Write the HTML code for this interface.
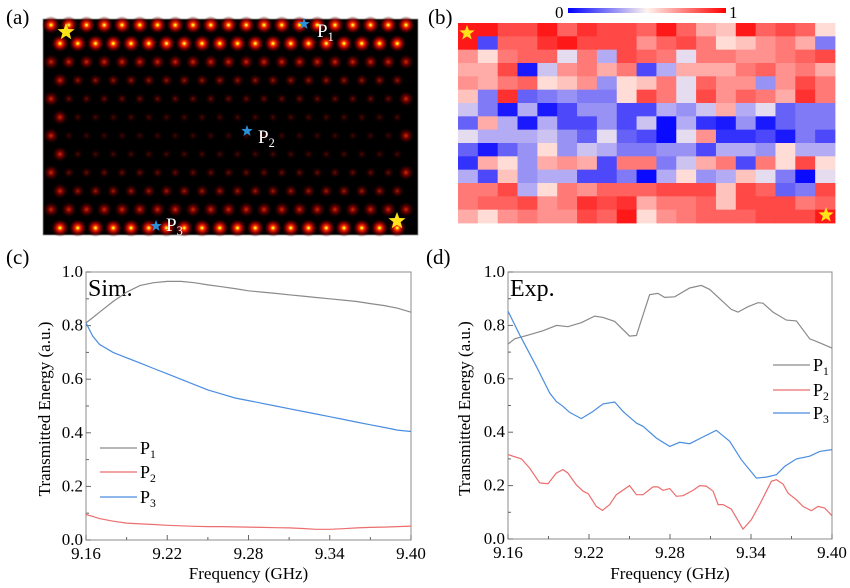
<!DOCTYPE html>
<html><head><meta charset="utf-8">
<style>
body{margin:0;background:#fff;width:850px;height:583px;overflow:hidden;font-family:"Liberation Serif","Times New Roman",Times,serif;}
text{font-family:"Liberation Serif","Times New Roman",Times,serif;}
</style></head>
<body>
<svg id="fig" width="850" height="583" xmlns="http://www.w3.org/2000/svg" font-family="Liberation Serif, Times New Roman, Times, serif" style="font-family:'Liberation Serif','Times New Roman',Times,serif">
<defs>
<radialGradient id="glow">
<stop offset="0" stop-color="#ffffa0"/>
<stop offset="0.12" stop-color="#ffd000"/>
<stop offset="0.26" stop-color="#ff3000"/>
<stop offset="0.55" stop-color="#b00000" stop-opacity="0.8"/>
<stop offset="1" stop-color="#300000" stop-opacity="0"/>
</radialGradient>
<radialGradient id="dimglow">
<stop offset="0" stop-color="#d03000"/>
<stop offset="0.35" stop-color="#900000" stop-opacity="0.8"/>
<stop offset="1" stop-color="#200000" stop-opacity="0"/>
</radialGradient>
<linearGradient id="cbar" x1="0" x2="1" y1="0" y2="0">
<stop offset="0" stop-color="#0000ff"/>
<stop offset="0.5" stop-color="#fff4ee"/>
<stop offset="1" stop-color="#ff0000"/>
</linearGradient>
</defs>
<g id="panelA">
<text x="6" y="24" font-size="21">(a)</text>
<rect x="43" y="19" width="375" height="216" fill="#000" stroke="#999" stroke-width="0.8"/>
<g id="dots"></g>
</g>
<g id="panelB">
<text x="428" y="24" font-size="21">(b)</text>
<text x="555" y="18" font-size="17">0</text>
<rect x="568" y="8" width="158" height="5" fill="url(#cbar)"/>
<text x="729" y="18" font-size="17">1</text>
<g id="cells"></g>
</g>
<g id="panelC"></g>
<g id="panelD"></g>
<g id="overlay"></g>
</svg>
<script>
const NS="http://www.w3.org/2000/svg";
function mk(tag,attrs,parent){const e=document.createElementNS(NS,tag);for(const k in attrs)e.setAttribute(k,attrs[k]);if(tag==='text')e.setAttribute('font-family','Liberation Serif, Times New Roman, Times, serif');parent.appendChild(e);return e;}

// ---------- Panel (a) field map ----------
const rowIntensity=[0.8,1.0,0.4,0.25,0.14,0.07,0.05,0.07,0.14,0.28,0.45,1.0];
const dotsG=document.getElementById('dots');
for(let i=0;i<rowIntensity.length;i++){
  const y=25+i*18.45;
  const x0=(i%2===0)?51:60;
  for(let k=0;k<21;k++){
    const x=x0+k*17.75;
    if(x>414) break;
    let I=rowIntensity[i];
    const edge=Math.min(x-43,418-x);
    if(edge<20) I=Math.max(I,0.45);
    const bright=I>0.6;
    const c=mk('circle',{cx:x,cy:y,r:bright?9:5+7*I,fill:bright?'url(#glow)':'url(#dimglow)',opacity:bright?1:Math.min(1,0.2+2*I)},dotsG);
    
    
  }
}
const ov=document.getElementById('overlay');
function star(cx,cy,r,fill,name){
  let p='';for(let j=0;j<10;j++){const a=-Math.PI/2+j*Math.PI/5;const rr=j%2?r*0.42:r;p+=(cx+rr*Math.cos(a))+','+(cy+rr*Math.sin(a))+' ';}
  const s=mk('polygon',{points:p,fill:fill},ov);
  
  
}
star(66,32,9,'#ffe21a','source-star-a');
star(397,221,9,'#ffe21a','drain-star-a');
star(304,24,6,'#2a90d8','probe-p1-star');
star(247,131,6,'#2a90d8','probe-p2-star');
star(156,226,6,'#2a90d8','probe-p3-star');
function plabel(x,y,n,fill,size,name,parent){
  const t=mk('text',{x:x,y:y,'font-size':size,fill:fill},parent||ov);
  
  
  t.innerHTML='P<tspan font-size="'+(size*0.65)+'" dy="4">'+n+'</tspan>';
}
plabel(317,37,1,'#fff',19,'probe-p1-label');
plabel(258,143,2,'#fff',19,'probe-p2-label');
plabel(166,231,3,'#fff',19,'probe-p3-label');

// ---------- Panel (b) heatmap ----------
const heatRows=[
[0.95,0.95,0.85,0.85,0.95,0.8,0.9,0.85,0.85,0.8,0.95,0.8,0.65,0.6,0.95,0.8,0.85,0.8,0.55],
[0.95,0.15,0.8,0.8,0.9,0.95,0.85,0.85,0.85,0.7,0.8,0.85,0.75,0.55,0.6,0.7,0.75,0.65,0.25],
[0.7,0.55,0.75,0.8,0.8,0.45,0.75,0.35,0.85,0.8,0.75,0.45,0.75,0.75,0.7,0.7,0.75,0.8,0.85],
[0.65,0.65,0.85,0.05,0.4,0.7,0.75,0.65,0.75,0.15,0.35,0.65,0.65,0.65,0.75,0.8,0.7,0.75,0.65],
[0.7,0.65,0.75,0.8,0.55,0.6,0.7,0.3,0.55,0.6,0.75,0.45,0.8,0.7,0.7,0.3,0.7,0.85,0.75],
[0.6,0.25,0.9,0.2,0.25,0.3,0.25,0.25,0.55,0.85,0.75,0.45,0.85,0.7,0.8,0.75,0.65,0.9,0.75],
[0.4,0.25,0.05,0.35,0.05,0.15,0.3,0.3,0.15,0.15,0.35,0.3,0.4,0.65,0.35,0.45,0.2,0.25,0.25],
[0.2,0.65,0.35,0.05,0.35,0.15,0.15,0.3,0.15,0.4,0.02,0.35,0.1,0.05,0.3,0.05,0.2,0.25,0.25],
[0.45,0.35,0.35,0.35,0.4,0.3,0.2,0.45,0.2,0.15,0.02,0.45,0.7,0.1,0.1,0.15,0.05,0.25,0.15],
[0.2,0.05,0.2,0.3,0.55,0.3,0.4,0.35,0.25,0.25,0.3,0.3,0.15,0.35,0.35,0.3,0.55,0.35,0.35],
[0.1,0.65,0.55,0.3,0.65,0.7,0.65,0.15,0.75,0.75,0.25,0.4,0.65,0.75,0.15,0.75,0.55,0.85,0.55],
[0.35,0.15,0.6,0.3,0.35,0.35,0.15,0.15,0.25,0.02,0.35,0.55,0.3,0.35,0.6,0.45,0.25,0.02,0.45],
[0.75,0.75,0.85,0.35,0.55,0.75,0.7,0.8,0.8,0.8,0.85,0.85,0.85,0.6,0.85,0.8,0.2,0.25,0.85],
[0.75,0.8,0.8,0.85,0.7,0.75,0.9,0.85,0.9,0.65,0.75,0.75,0.8,0.6,0.85,0.85,0.85,0.75,0.8],
[0.65,0.55,0.7,0.75,0.7,0.7,0.85,0.8,0.95,0.55,0.7,0.75,0.8,0.8,0.8,0.85,0.85,0.85,0.95]];
function cmap(v){
  if(v<0.5){const t=v/0.5;return `rgb(${Math.round(255*t)},${Math.round(244*t)},${Math.round(255-17*t)})`;}
  const t=(v-0.5)/0.5;return `rgb(255,${Math.round(244*(1-t))},${Math.round(238*(1-t))})`;
}
const cellsG=document.getElementById('cells');
const hx0=458,hx1=835,hy0=23,hy1=223;
const nR=heatRows.length,nC=heatRows[0].length;
const cw=(hx1-hx0)/nC,ch=(hy1-hy0)/nR;
heatRows.forEach((row,r)=>row.forEach((v,c)=>{
  const e=mk('rect',{x:hx0+c*cw,y:hy0+r*ch,width:cw+0.4,height:ch+0.4,fill:cmap(v)},cellsG);
  
  
}));
star(467,33,8,'#ffe21a','source-star-b');
star(826,215,8,'#ffe21a','drain-star-b');

// ---------- Line charts ----------
const xTicks=[9.16,9.22,9.28,9.34,9.40];
const xTickLabels=["9.16","9.22","9.28","9.34","9.40"];
const yTicks=[0,0.2,0.4,0.6,0.8,1.0];
const yTickLabels=["0.0","0.2","0.4","0.6","0.8","1.0"];
const seriesNames=["P1","P2","P3"];
const seriesColors=["#8a8a8a","#ec6e6e","#4a8de0"];

const simFreq=[9.16,9.165,9.17,9.18,9.19,9.20,9.21,9.22,9.23,9.24,9.25,9.26,9.27,9.28,9.29,9.30,9.31,9.32,9.33,9.34,9.35,9.36,9.37,9.38,9.39,9.40];
const simP1=[0.81,0.83,0.85,0.89,0.925,0.95,0.96,0.965,0.965,0.96,0.952,0.945,0.938,0.93,0.925,0.92,0.915,0.91,0.905,0.9,0.895,0.89,0.882,0.875,0.865,0.85];
const simP2=[0.095,0.088,0.08,0.07,0.063,0.06,0.058,0.055,0.053,0.051,0.05,0.05,0.049,0.048,0.047,0.046,0.045,0.043,0.04,0.04,0.042,0.045,0.047,0.048,0.05,0.052];
const simP3=[0.81,0.76,0.73,0.70,0.68,0.66,0.64,0.62,0.60,0.58,0.56,0.545,0.53,0.52,0.51,0.50,0.49,0.48,0.47,0.46,0.45,0.44,0.43,0.42,0.41,0.405];

const expP1Freq=[9.16,9.165,9.176,9.186,9.196,9.2044,9.2143,9.2242,9.2304,9.239,9.2501,9.2551,9.2649,9.2711,9.276,9.2835,9.2946,9.3032,9.3094,9.3168,9.3254,9.3304,9.3378,9.3452,9.3489,9.3563,9.3662,9.3736,9.3835,9.3909,9.40];
const expP1=[0.73,0.75,0.765,0.78,0.80,0.795,0.81,0.835,0.83,0.815,0.76,0.762,0.915,0.92,0.905,0.907,0.94,0.95,0.935,0.90,0.86,0.85,0.87,0.885,0.883,0.85,0.82,0.817,0.75,0.735,0.715];
const expP2Freq=[9.16,9.1699,9.176,9.1835,9.1896,9.1958,9.2007,9.2044,9.2106,9.2156,9.2193,9.2254,9.2299,9.2353,9.2402,9.2501,9.2551,9.26,9.2674,9.2711,9.2748,9.2798,9.2847,9.2896,9.297,9.302,9.3069,9.3119,9.3156,9.3193,9.3254,9.3341,9.3402,9.3464,9.3514,9.3551,9.3588,9.3637,9.3674,9.3736,9.3785,9.3847,9.3896,9.3946,9.40];
const expP2=[0.316,0.30,0.266,0.21,0.207,0.247,0.26,0.247,0.203,0.179,0.17,0.122,0.107,0.129,0.166,0.2,0.166,0.166,0.195,0.195,0.182,0.189,0.16,0.162,0.182,0.2,0.198,0.179,0.129,0.129,0.112,0.037,0.072,0.129,0.179,0.216,0.222,0.206,0.172,0.147,0.122,0.106,0.122,0.116,0.087];
const expP3Freq=[9.16,9.1686,9.181,9.1909,9.1958,9.2007,9.2057,9.2143,9.223,9.2304,9.239,9.2452,9.2551,9.26,9.2699,9.2798,9.2872,9.2946,9.3044,9.3143,9.3242,9.3328,9.344,9.3514,9.3588,9.365,9.3736,9.3835,9.3909,9.40];
const expP3=[0.853,0.765,0.647,0.547,0.515,0.497,0.474,0.451,0.478,0.506,0.513,0.478,0.434,0.422,0.378,0.347,0.362,0.357,0.382,0.407,0.366,0.297,0.228,0.232,0.241,0.272,0.30,0.31,0.328,0.335];

function drawChart(gid,cfg){
  const g=document.getElementById(gid);
  
  
  const {x0,x1,y0,y1}=cfg;
  const sx=f=>x0+(f-9.16)/(9.40-9.16)*(x1-x0);
  const sy=v=>y0-(v-0)/(1-0)*(y0-y1);
  const pl=mk('text',{x:cfg.px,y:264,'font-size':21},g);
  pl.textContent=cfg.label;
  
  
  const fr=mk('rect',{x:x0,y:y1,width:x1-x0,height:y0-y1,fill:'none',stroke:'#8c8c8c','stroke-width':1},g);
  
  
  xTicks.forEach((t,i)=>{
    const x=sx(t);
    const tk=mk('line',{x1:x,x2:x,y1:y0,y2:y0-5,stroke:'#666'},g);
    
    
    if(i<xTicks.length-1){const m=sx(t+0.03);const mt=mk('line',{x1:m,x2:m,y1:y0,y2:y0-3,stroke:'#666'},g);
      
      }
    const lb=mk('text',{x:x,y:y0+19,'font-size':17,'text-anchor':'middle'},g);
    lb.textContent=xTickLabels[i];
    
    
  });
  yTicks.forEach((t,i)=>{
    const y=sy(t);
    const tk=mk('line',{x1:x0,x2:x0+5,y1:y,y2:y,stroke:'#666'},g);
    
    
    if(i<yTicks.length-1){const m=sy(t+0.1);const mt=mk('line',{x1:x0,x2:x0+3,y1:m,y2:m,stroke:'#666'},g);
      
      }
    const lb=mk('text',{x:x0-3,y:y+5,'font-size':17,'text-anchor':'end'},g);
    lb.textContent=yTickLabels[i];
    
    
  });
  const xt=mk('text',{x:(x0+x1)/2,y:579,'font-size':17,'text-anchor':'middle'},g);
  xt.textContent='Frequency (GHz)';
  
  
  const yc=(y0+y1)/2+3;
  const yt=mk('text',{x:cfg.ytx,y:yc,'font-size':17,'text-anchor':'middle',transform:`rotate(-90 ${cfg.ytx} ${yc})`},g);
  yt.textContent='Transmitted Energy (a.u.)';
  
  
  const tag=mk('text',{x:x0+2,y:y1+24,'font-size':24},g);
  tag.textContent=cfg.tag;
  
  
  cfg.series.forEach((s,i)=>{
    const d=s.f.map((f,j)=>(j?'L':'M')+sx(f).toFixed(1)+','+sy(s.v[j]).toFixed(1)).join(' ');
    const p=mk('path',{d:d,fill:'none',stroke:seriesColors[i],'stroke-width':1.2},g);
    
    
    const ly=cfg.legY[i];
    const ll=mk('line',{x1:cfg.legX,x2:cfg.legX+37,y1:ly,y2:ly,stroke:seriesColors[i],'stroke-width':1.2},g);
    
    
    plabel(cfg.legX+40,ly+6,i+1,'#000',18,'legend-entry-'+seriesNames[i].toLowerCase(),g);
  });
}
drawChart('panelC',{name:'simulation-chart',label:'(c)',labelName:'panel-c-label',px:6,x0:86,x1:411,y0:540,y1:272,ytx:50,tag:'Sim.',
  legX:100,legY:[448,472,497],
  series:[{f:simFreq,v:simP1},{f:simFreq,v:simP2},{f:simFreq,v:simP3}]});
drawChart('panelD',{name:'experiment-chart',label:'(d)',labelName:'panel-d-label',px:426,x0:508,x1:832,y0:539,y1:272,ytx:470,tag:'Exp.',
  legX:773,legY:[365,390,413],
  series:[{f:expP1Freq,v:expP1},{f:expP2Freq,v:expP2},{f:expP3Freq,v:expP3}]});
</script>
</body></html>
